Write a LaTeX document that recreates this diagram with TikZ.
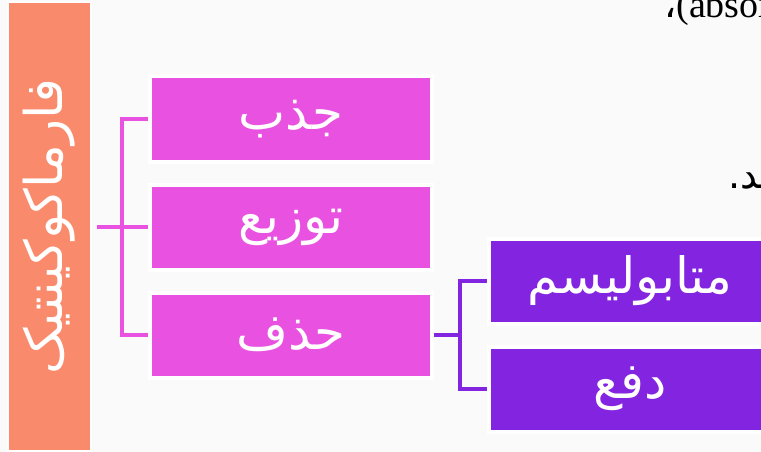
\documentclass[tikz,border=0pt]{standalone}
\usepackage{fontspec}
\newfontfamily\arabicfont[Script=Arabic]{DejaVu Sans}
\newfontfamily\latinserif{Liberation Serif}
\TeXXeTstate=1
\definecolor{bgcol}{HTML}{FAFAFA}
\definecolor{salmon}{HTML}{FA8A6C}
\definecolor{pinkbox}{HTML}{E952E0}
\definecolor{purplebox}{HTML}{8325E0}
\begin{document}
\begin{tikzpicture}[x=1pt, y=-1pt,
    stagebox/.style={draw=white, line width=4pt, minimum width=282pt, minimum height=85pt,
      inner sep=0pt, text=white, font=\arabicfont\fontsize{50}{56}\selectfont},
    pinkline/.style={draw=pinkbox, line width=4pt},
    purpleline/.style={draw=purplebox, line width=4pt},
    bgtext/.style={anchor=base west, inner sep=0pt, text=black, font=\fontsize{38}{44}\selectfont}]
  \useasboundingbox (0,0) rectangle (761,452);
  \clip (0,0) rectangle (761,452);
  \fill[bgcol] (0,0) rectangle (761,452);
  % text of the slide behind the chart
  \node[bgtext] (abso) at (664,18) {\arabicfont ،\latinserif(absorption)};
  \node[bgtext] (shavand) at (728,188) {\arabicfont\beginR میشوند.\endR};
  % left bar
  \node[fill=salmon, draw=white, line width=2pt, minimum width=83pt, minimum height=449pt, inner sep=0pt] (pk) at (49.5,226.5) {};
  \node[rotate=90, text=white, font=\arabicfont\fontsize{52}{58}\selectfont] (pktext) at (pk.center) {\beginR فارماکوکینتیک\endR};
  % stages
  \node[stagebox, fill=pinkbox] (jazb) at (291,119) {\beginR جذب\endR};
  \node[stagebox, fill=pinkbox] (tozi) at (291,227) {\beginR توزیع\endR};
  \node[stagebox, fill=pinkbox] (hazf) at (291,335) {\beginR حذف\endR};
  \node[stagebox, fill=purplebox] (metab) at (630,281) {\beginR متابولیسم\endR};
  \node[stagebox, fill=purplebox] (dafe) at (630,389) {\beginR دفع\endR};
  % brackets
  \coordinate (pj) at (122,227);
  \draw[pinkline, shorten <=5pt] (pk.east |- pj) -- (pj);
  \draw[pinkline] (jazb.west) -| (pj) |- (hazf.west);
  \draw[pinkline] (pj) -- (tozi.west);
  \coordinate (mj) at (460,335);
  \draw[purpleline] (hazf.east) -- (mj);
  \draw[purpleline] (metab.west) -| (mj) |- (dafe.west);
\end{tikzpicture}
\end{document}
